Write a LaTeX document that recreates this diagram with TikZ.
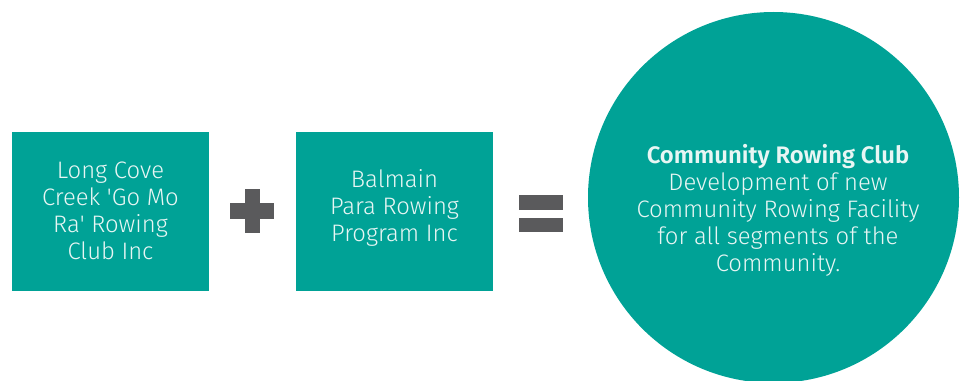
\documentclass[tikz,border=0pt]{standalone}
\usepackage{fontspec}
\setmainfont{Fira Sans Light}[BoldFont={Fira Sans SemiBold}]
\definecolor{teal}{RGB}{0,162,150}
\definecolor{signgray}{RGB}{90,90,92}
\definecolor{paletext}{RGB}{232,246,244}
\begin{document}
\begin{tikzpicture}[x=0.75pt,y=-0.75pt,
  panel/.style={fill=teal,draw=none,minimum width=147.75pt,minimum height=119.25pt,inner sep=0pt},
  label/.style={text=paletext,align=center,font=\fontsize{17.9}{20.2}\selectfont,inner sep=0pt},
  sign/.style={fill=signgray,draw=none}]
  \useasboundingbox (0,0) rectangle (965,381);
  % the two member organisations
  \node[panel] (longcove) at (110.5,211.5) {};
  \node[panel] (balmain) at (394.5,211.5) {};
  \node[label] (longcovetext) at (110.5,210.5) {Long Cove\\Creek \textquotesingle Go Mo\\Ra\textquotesingle\ Rowing\\Club Inc};
  \node[label] (balmaintext) at (394.5,208) {Balmain\\Para Rowing\\Program Inc};
  % plus sign
  \fill[sign] (245,189) rectangle (260,233);
  \fill[sign] (230,203) rectangle (274,219);
  % equals sign
  \fill[sign] (519,195) rectangle (563,210);
  \fill[sign] (519,218) rectangle (563,232);
  % resulting club
  \node[circle,fill=teal,draw=none,minimum size=278.25pt,inner sep=0pt] (club) at (773.5,197.5) {};
  \node[label] (clubtext) at (778,210) {\textbf{Community Rowing Club}\\Development of new\\Community Rowing Facility\\for all segments of the\\Community.};
\end{tikzpicture}
\end{document}
